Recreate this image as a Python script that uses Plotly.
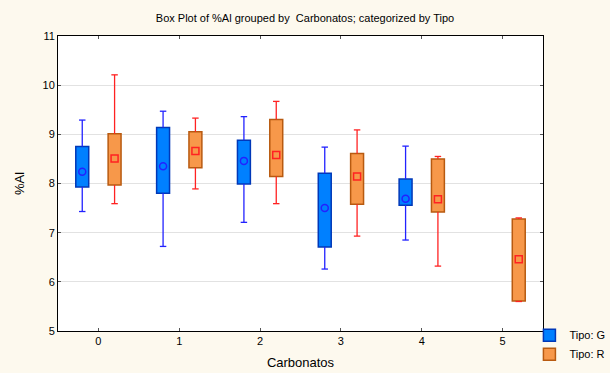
import plotly.graph_objects as go

# Carbonatos categories and per-Tipo summary statistics (%Al)
carbonatos = [0, 1, 2, 3, 4, 5]

g_cats = [0, 1, 2, 3, 4]
g_mean = [8.24, 8.35, 8.46, 7.50, 7.69]
g_box_low = [7.93, 7.80, 7.99, 6.71, 7.56]
g_box_high = [8.75, 9.14, 8.88, 8.21, 8.09]
g_whisk_low = [7.43, 6.72, 7.21, 6.26, 6.85]
g_whisk_high = [9.29, 9.47, 9.36, 8.74, 8.76]

r_cats = [0, 1, 2, 3, 4, 5]
r_mean = [8.51, 8.66, 8.58, 8.14, 7.68, 6.46]
r_box_low = [7.97, 8.32, 8.14, 7.58, 7.42, 5.61]
r_box_high = [9.01, 9.05, 9.30, 8.61, 8.50, 7.28]
r_whisk_low = [7.59, 7.89, 7.59, 6.93, 6.32, 5.60]
r_whisk_high = [10.21, 9.33, 9.67, 9.09, 8.55, 7.30]

y_ticks = [5, 6, 7, 8, 9, 10, 11]

SHIFT = 0.2      # horizontal offset of each Tipo from the category centre
BOX_W = 0.16     # box width in category units
CAP = 0.04       # half-width of whisker caps

series = [
    dict(name="Tipo: G", cats=g_cats, mean=g_mean, lo=g_box_low, hi=g_box_high,
         wlo=g_whisk_low, whi=g_whisk_high, dx=-SHIFT,
         fill="#0080FF", edge="#0038B8", whisk="#2222FF", symbol="circle-open"),
    dict(name="Tipo: R", cats=r_cats, mean=r_mean, lo=r_box_low, hi=r_box_high,
         wlo=r_whisk_low, whi=r_whisk_high, dx=SHIFT,
         fill="#F7984A", edge="#B85A10", whisk="#FF2222", symbol="square-open"),
]

fig = go.Figure()

for s in series:
    # whiskers with caps, drawn as line segments outside each box
    wx, wy = [], []
    for c, lo, hi, wlo, whi in zip(s["cats"], s["lo"], s["hi"], s["wlo"], s["whi"]):
        xc = c + s["dx"]
        wx += [xc, xc, None, xc - CAP, xc + CAP, None,
               xc, xc, None, xc - CAP, xc + CAP, None]
        wy += [hi, whi, None, whi, whi, None,
               lo, wlo, None, wlo, wlo, None]
    fig.add_trace(go.Scatter(x=wx, y=wy, mode="lines", showlegend=False,
                             line=dict(color=s["whisk"], width=1.3),
                             hoverinfo="skip"))

for s in series:
    # boxes spanning the inner interval
    fig.add_trace(go.Bar(
        x=s["cats"],
        base=s["lo"],
        y=[h - l for h, l in zip(s["hi"], s["lo"])],
        width=BOX_W,
        offset=s["dx"] - BOX_W / 2,
        name=s["name"],
        marker=dict(color=s["fill"], line=dict(color=s["edge"], width=1.5)),
    ))

for s in series:
    # mean markers
    fig.add_trace(go.Scatter(
        x=[c + s["dx"] for c in s["cats"]], y=s["mean"], mode="markers",
        showlegend=False,
        marker=dict(symbol=s["symbol"], size=7, color=s["whisk"],
                    line=dict(width=1.5, color=s["whisk"])),
    ))

axis_font = dict(family="Liberation Sans, Arial, sans-serif", size=11, color="#000000")

fig.update_layout(
    width=610, height=373,
    margin=dict(l=58, r=67, t=36, b=42, autoexpand=False),
    paper_bgcolor="#FDF9EE",
    plot_bgcolor="#FFFFFF",
    barmode="overlay",
    font=axis_font,
    title=dict(text="Box Plot of %Al grouped by  Carbonatos; categorized by Tipo",
               x=0.5, xanchor="center", y=0.952, yanchor="middle",
               font=dict(size=11, family=axis_font["family"])),
    xaxis=dict(range=[-0.5, 5.5], tickvals=carbonatos, ticktext=[str(c) for c in carbonatos],
               showgrid=False, zeroline=False, showline=True, linecolor="#000000",
               linewidth=1, mirror="ticks", ticks="inside", ticklen=3,
               tickcolor="#555555",
               title=dict(text="Carbonatos", standoff=11)),
    yaxis=dict(range=[5, 11], tickvals=y_ticks, showgrid=True, gridcolor="#E2E2E2",
               gridwidth=1, zeroline=False, showline=True, linecolor="#000000",
               linewidth=1, mirror="ticks", ticks="inside", ticklen=3,
               tickcolor="#555555",
               title=dict(text="%Al", standoff=14)),
    legend=dict(x=0.972, xanchor="left", y=0.035, yanchor="top",
                bgcolor="rgba(0,0,0,0)", font=dict(size=11),
                itemwidth=30, tracegroupgap=0),
)

fig.write_html("out.html")
